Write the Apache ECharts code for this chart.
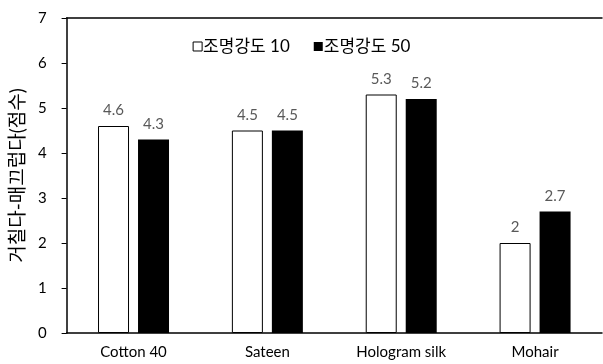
<!DOCTYPE html>
<html>
<head>
<meta charset="utf-8">
<script src="https://cdn.jsdelivr.net/npm/echarts@6/dist/echarts.min.js"></script>
<style>
  html, body { margin: 0; padding: 0; background: #fff; }
  #chart { width: 603px; height: 364px; }
</style>
</head>
<body>
<div id="chart"></div>
<script>
const categories = ['Cotton 40', 'Sateen', 'Hologram silk', 'Mohair'];
const seriesNames = ['조명강도 10', '조명강도 50'];
const light10 = [4.6, 4.5, 5.3, 2];
const light50 = [4.3, 4.5, 5.2, 2.7];
const yTicks = [0, 1, 2, 3, 4, 5, 6, 7];
const yAxisTitle = '거칠다-매끄럽다(점수)';

const FONT = "Lato, 'Noto Sans CJK KR', sans-serif";

const chart = echarts.init(document.getElementById('chart'), null, { renderer: 'canvas' });

const labelStyle = {
  show: true,
  position: 'top',
  distance: 8,
  color: '#595959',
  fontSize: 15,
  fontFamily: FONT
};

chart.setOption({
  animation: false,
  backgroundColor: '#fff',
  textStyle: { fontFamily: FONT },
  grid: { left: 63, right: 1, top: 18, bottom: 31, containLabel: false },
  legend: {
    top: 33,
    left: 'center',
    itemWidth: 9,
    itemHeight: 9,
    itemGap: 24,
    icon: 'rect',
    textStyle: { fontSize: 17, color: '#000', fontFamily: FONT, padding: [0, 0, 0, -4] },
    data: [
      { name: seriesNames[0], itemStyle: { color: '#fff', borderColor: '#000', borderWidth: 1 } },
      { name: seriesNames[1], itemStyle: { color: '#000' } }
    ]
  },
  xAxis: [
    {
      type: 'category',
      data: categories,
      axisLine: { show: true, lineStyle: { color: '#000', width: 1.5 } },
      axisTick: { show: false },
      axisLabel: { color: '#000', fontSize: 15, margin: 12, fontFamily: FONT }
    },
    {
      type: 'category',
      position: 'top',
      data: categories,
      axisLine: { show: true, lineStyle: { color: '#000', width: 1.5 } },
      axisTick: { show: false },
      axisLabel: { show: false }
    }
  ],
  yAxis: {
    type: 'value',
    min: yTicks[0],
    max: yTicks[yTicks.length - 1],
    interval: 1,
    name: yAxisTitle,
    nameLocation: 'middle',
    nameGap: 34,
    nameTextStyle: { fontSize: 19, color: '#000', fontFamily: FONT },
    axisLine: { show: true, lineStyle: { color: '#000', width: 1.5 } },
    axisTick: { show: true, length: 5, lineStyle: { color: '#000' } },
    axisLabel: { color: '#000', fontSize: 15, margin: 20, fontFamily: FONT },
    splitLine: { show: false }
  },
  series: [
    {
      name: seriesNames[0],
      type: 'bar',
      data: light10,
      barWidth: 31,
      barGap: '29%',
      itemStyle: { color: '#fff', borderColor: '#000', borderWidth: 1 },
      label: labelStyle
    },
    {
      name: seriesNames[1],
      type: 'bar',
      data: light50,
      barWidth: 31,
      barGap: '29%',
      itemStyle: { color: '#000' },
      label: labelStyle
    }
  ]
});
</script>
</body>
</html>
